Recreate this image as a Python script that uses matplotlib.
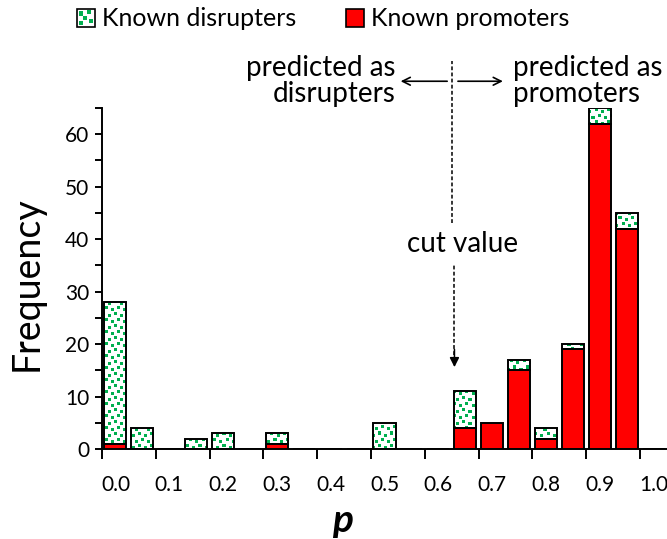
import numpy as np
import matplotlib.pyplot as plt
from matplotlib.patches import Rectangle
from matplotlib.legend_handler import HandlerBase

plt.rcParams['font.family'] = ['Lato', 'DejaVu Sans']

# p bins (width 0.05) and counts per bin
bins = ['0.00', '0.05', '0.10', '0.15', '0.20', '0.25', '0.30', '0.35', '0.40', '0.45',
        '0.50', '0.55', '0.60', '0.65', '0.70', '0.75', '0.80', '0.85', '0.90', '0.95', '1.00']
promoters = [1, 0, 0, 0, 0, 0, 1, 0, 0, 0, 0, 0, 0, 4, 5, 15, 2, 19, 62, 42, 0]
disrupters = [27, 4, 0, 2, 3, 0, 2, 0, 0, 0, 5, 0, 0, 7, 0, 2, 2, 1, 3, 3, 0]
tick_labels = ['0.0', '0.1', '0.2', '0.3', '0.4', '0.5', '0.6', '0.7', '0.8', '0.9', '1.0']

GREEN = '#00b050'
RED = '#ff0000'

W, H = 667, 539
fig = plt.figure(figsize=(W / 100, H / 100), dpi=100)
ax_l, ax_b, ax_w, ax_h = 102, 449, 565, 341
ax = fig.add_axes([ax_l / W, 1 - ax_b / H, ax_w / W, ax_h / H])

x = np.arange(len(bins))
ymax = 65

# confetti fill: tile of small green squares
tile = np.ones((12, 12, 3))
for r, c in [(0, 0), (2, 6), (6, 3), (8, 9)]:
    tile[r:r + 3, c:c + 3] = [0, 0.69, 0.31]
pattern = np.tile(tile, (ax_h // 12 + 1, ax_w // 12 + 1, 1))[:ax_h, :ax_w]

bw = 0.82
ax.bar(x, promoters, bw, color=RED, edgecolor='black', linewidth=1.4, zorder=3)
tops = ax.bar(x, disrupters, bw, bottom=promoters, facecolor='none',
              edgecolor='black', linewidth=1.4, zorder=3)
for patch, h in zip(tops.patches, disrupters):
    if h == 0:
        patch.set_visible(False)
        continue
    im = ax.imshow(pattern, extent=(-0.5, len(bins) - 0.5, 0, ymax), aspect='auto',
                   interpolation='nearest', zorder=2)
    im.set_clip_path(patch)

ax.set_xlim(-0.5, len(bins) - 0.5)
ax.set_ylim(0, ymax)
for side in ['top', 'right']:
    ax.spines[side].set_visible(False)
for side in ['left', 'bottom']:
    ax.spines[side].set_linewidth(1.4)

# tick marks on bin-pair edges, labels under every other bin
ax.set_xticks(np.arange(-0.5, len(bins) - 1, 2))
ax.set_xticklabels([])
ax.set_xticks(x[::2], tick_labels, minor=True)
ax.tick_params(axis='x', which='major', length=7, width=1.4, direction='out')
ax.tick_params(axis='x', which='minor', length=0, pad=19, labelsize=15)
ax.set_yticks(np.arange(0, 61, 10))
ax.set_yticks(np.arange(5, 66, 10), minor=True)
ax.tick_params(axis='y', which='both', length=5, width=1.4, direction='out', labelsize=15, pad=4)

fig.text(27 / W, 1 - 284 / H, 'Frequency', fontsize=27, rotation=90,
         ha='center', va='center')
fig.text(343 / W, 1 - 520 / H, 'p', fontsize=28, fontweight='bold', fontstyle='italic',
         ha='center', va='center')

# cut value marker
cut = 12.5
ax.plot([cut, cut], [43, 74], ls=(0, (2.5, 1.5)), color='black', lw=1.1, clip_on=False)
ax.plot([cut + 0.1, cut + 0.1], [18, 35], ls=(0, (2.5, 1.5)), color='black', lw=1.1)
ax.annotate('', xy=(cut + 0.1, 15.6), xytext=(cut + 0.1, 19),
            arrowprops=dict(arrowstyle='-|>', color='black', lw=1.1,
                            mutation_scale=14, shrinkA=0, shrinkB=0))
ax.text(cut + 0.4, 39, 'cut value', fontsize=20, ha='center', va='center')
arrow = dict(arrowstyle='->', color='black', lw=1.2, mutation_scale=14, shrinkA=0, shrinkB=0)
ax.annotate('', xy=(10.6, 70.1), xytext=(12.33, 70.1), arrowprops=arrow, annotation_clip=False)
ax.annotate('', xy=(14.4, 70.1), xytext=(12.73, 70.1), arrowprops=arrow, annotation_clip=False)
ax.text(10.4, 70.1, 'predicted as\ndisrupters', fontsize=20, ha='right', va='center',
        linespacing=1.0, clip_on=False)
ax.text(14.78, 70.1, 'predicted as\npromoters', fontsize=20, ha='left', va='center',
        linespacing=1.0, clip_on=False)


class SwatchHandler(HandlerBase):
    def create_artists(self, legend, orig_handle, xdescent, ydescent,
                       width, height, fontsize, trans):
        s = height
        x0, y0 = -xdescent, -ydescent
        if orig_handle == 'confetti':
            arts = [Rectangle((x0, y0), s, s, fc='white', ec='none', transform=trans)]
            for fx, fy in [(0.1, 0.62), (0.55, 0.7), (0.32, 0.35), (0.7, 0.2), (0.1, 0.08)]:
                arts.append(Rectangle((x0 + fx * s, y0 + fy * s), 0.24 * s, 0.24 * s,
                                      fc=GREEN, ec='none', transform=trans))
            arts.append(Rectangle((x0, y0), s, s, fc='none', ec='black', lw=1.2,
                                  transform=trans))
            return arts
        return [Rectangle((x0, y0), s, s, fc=RED, ec='black', lw=1.2, transform=trans)]


fig.legend(['confetti', 'red'], ['Known disrupters', 'Known promoters'],
           handler_map={str: SwatchHandler()}, loc='center left',
           bbox_to_anchor=(77 / W, 1 - 19 / H), ncol=2, frameon=False, fontsize=18,
           borderpad=0, borderaxespad=0, handlelength=0.7, handleheight=0.7,
           handletextpad=0.3, columnspacing=2.0)

fig.savefig('out.png', dpi=100)
